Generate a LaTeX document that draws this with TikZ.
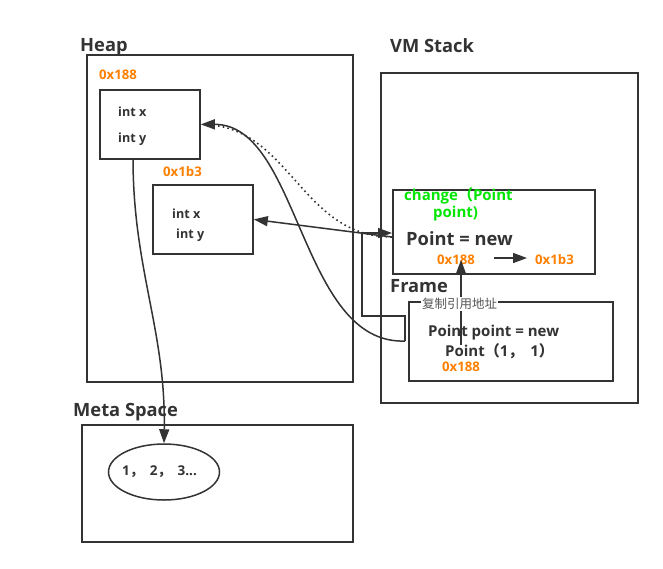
\documentclass[tikz,border=0pt]{standalone}
\usepackage{fontspec}
\setmainfont{Open Sans}
\newfontfamily\cjk{Noto Sans CJK SC}
\usetikzlibrary{arrows.meta,shapes.geometric}
\definecolor{ink}{HTML}{333333}
\definecolor{addr}{HTML}{FF8000}
\definecolor{grn}{HTML}{00E600}
\definecolor{lbl}{HTML}{555555}
\begin{document}
\begin{tikzpicture}[x=1pt,y=-1pt,
  frameline/.style={draw=ink,line width=1.8pt},
  ttl/.style={anchor=west,inner sep=0pt,text=ink,font=\bfseries\fontsize{18.3}{20}\selectfont},
  addrtxt/.style={anchor=west,inner sep=0pt,text=addr,font=\bfseries\fontsize{13.2}{14}\selectfont},
  small/.style={anchor=west,inner sep=0pt,text=ink,font=\bfseries\fontsize{12.6}{14}\selectfont},
  mid/.style={anchor=west,inner sep=0pt,text=ink,font=\bfseries\fontsize{15}{16}\selectfont},
  conn/.style={draw=ink,line width=1.5pt},
  arr/.style={conn,-{Triangle[length=14pt,width=10pt]}},
]
\useasboundingbox[fill=white] (0,0) rectangle (663,568);
% containers
\draw[frameline] (87,55) rectangle (353,382);
\draw[frameline] (381,73) rectangle (638,403);
\draw[frameline] (82,425) rectangle (353,542);
% titles
\node[ttl] (heapT) at (80,47) {Heap};
\node[ttl] (vmT) at (390,46) {VM Stack};
\node[ttl] (metaT) at (73,412) {Meta Space};
\node[ttl] (frameT) at (390,286) {Frame};
% heap objects
\node[frameline,anchor=north west,minimum width=100pt,minimum height=69pt,inner sep=0pt] (box1) at (99,89) {};
\node[addrtxt] (a1) at (99,75) {0x188};
\node[small] (b1x) at (118,112) {int x};
\node[small] (b1y) at (118,139) {int y};
\node[frameline,anchor=north west,minimum width=100pt,minimum height=69pt,inner sep=0pt] (box2) at (152,184) {};
\node[addrtxt] (a2) at (163,172) {0x1b3};
\node[small] (b2x) at (172,214) {int x};
\node[small] (b2y) at (176,235) {int y};
% stack frames
\node[frameline,anchor=north west,minimum width=202pt,minimum height=84pt,inner sep=0pt] (chg) at (392,189) {};
\node[anchor=west,inner sep=0pt,text=grn,font=\bfseries\fontsize{15}{16}\selectfont] (c1) at (404,196) {change{\cjk（}Point};
\node[anchor=west,inner sep=0pt,text=grn,font=\bfseries\fontsize{15}{16}\selectfont] (c2) at (433,214) {point)};
\node[anchor=west,inner sep=0pt,text=ink,font=\bfseries\fontsize{18.3}{20}\selectfont] (pnew) at (406,239) {Point = new};
\node[addrtxt] (a3) at (437,260) {0x188};
\node[addrtxt] (a4) at (535,260) {0x1b3};
\coordinate (s1) at (494,258);
\coordinate (s2) at (527,258);
\draw[arr] (s1) -- (s2);
\node[frameline,anchor=north west,minimum width=204pt,minimum height=79pt,inner sep=0pt] (frm) at (408,301) {};
\node[mid] (p1) at (428,333) {Point point = new};
\node[mid] (p2) at (445,351) {Point{\cjk（}1{\cjk，}\hspace{3pt} 1{\cjk）}};
\node[addrtxt] (a5) at (442,367) {0x188};
% copy reference arrow
\coordinate (vs) at (461,345);
\coordinate (ve) at (461,260);
\draw[arr] (vs) -- (ve);
\node[anchor=west,inner sep=1pt,fill=white,text=lbl,font=\cjk\fontsize{12.5}{14}\selectfont] (cp) at (421,304) {复制引用地址};
% meta space
\node[draw=ink,line width=1.5pt,ellipse,minimum width=111pt,minimum height=56pt,inner sep=0pt] (ell) at (164,472) {};
\node[anchor=west,inner sep=0pt,font=\bfseries\fontsize{13.5}{15}\selectfont,text=ink] (elltxt) at (122,472) {1{\cjk，}\hspace{3pt} 2{\cjk，}\hspace{3pt} 3...};
% connectors
\coordinate (j1) at (392,237);
\coordinate (j2) at (405,341);
\coordinate (b1s) at (133,158);
\coordinate (chgin) at (392,233);
\draw[arr] (b1s) .. controls (133,270) and (166,330) .. (ell.north);
\draw[arr] (j2) .. controls (300,345) and (300,124) .. (box1.east);
\draw[conn,line width=1.6pt,dash pattern=on 1.6pt off 3.2pt] (j1) .. controls (300,237) and (290,124) .. (box1.east);
\draw[arr] (j1) -- (box2.east);
\draw[arr] (j2) -- (405,316) -- (362,316) -- (362,233) -- (chgin);
\end{tikzpicture}
\end{document}
